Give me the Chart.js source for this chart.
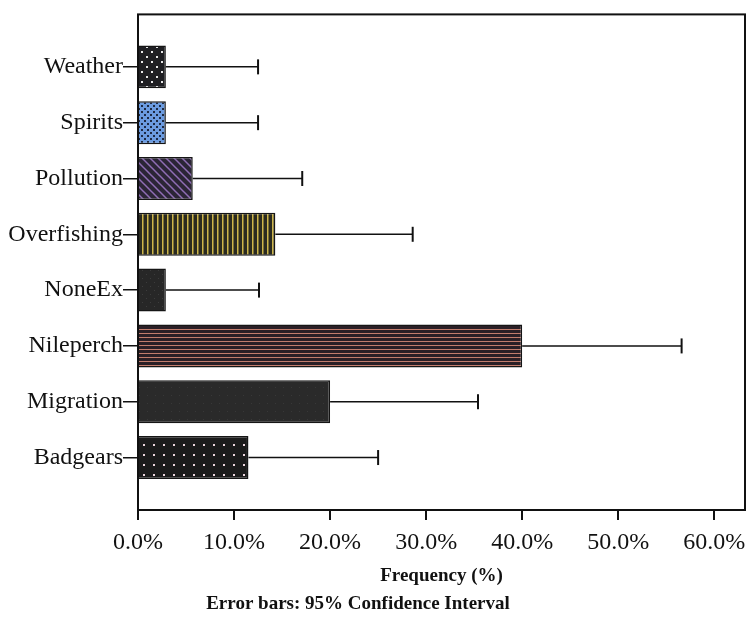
<!DOCTYPE html>
<html>
<head>
<meta charset="utf-8">
<script src="https://cdn.jsdelivr.net/npm/chart.js"></script>
<style>body{margin:0;background:#fff}</style>
</head>
<body>
<canvas id="chart" width="749" height="617"></canvas>
<script>
const categories = ['Weather', 'Spirits', 'Pollution', 'Overfishing', 'NoneEx', 'Nileperch', 'Migration', 'Badgears'];
const frequency = [2.9, 2.9, 5.7, 14.3, 2.9, 40.0, 20.0, 11.5];
const ciUpper = [12.5, 12.5, 17.1, 28.6, 12.6, 56.6, 35.4, 25.0];
const xTicks = [0, 10, 20, 30, 40, 50, 60];

const serif = '"Liberation Serif", "Times New Roman", serif';

// small tiles used as bar fills
function tile(size, bg, draw) {
  const c = document.createElement('canvas');
  c.width = size; c.height = size;
  const t = c.getContext('2d');
  t.fillStyle = bg;
  t.fillRect(0, 0, size, size);
  draw(t);
  return t.createPattern(c, 'repeat');
}
const fills = [
  tile(10, '#1f1f23', t => { t.fillStyle = '#e8e8e8'; t.fillRect(1, 1, 2, 2); t.fillRect(6, 6, 2, 2); }),
  tile(6, '#6b9be0', t => { t.fillStyle = '#1d2a44'; t.fillRect(0, 0, 2, 2); t.fillRect(3, 3, 2, 2); }),
  tile(8, '#2b2536', t => { t.strokeStyle = '#8f6db4'; t.lineWidth = 1.5; t.beginPath(); t.moveTo(-1, -1); t.lineTo(9, 9); t.moveTo(-5, 3); t.lineTo(5, 13); t.moveTo(3, -5); t.lineTo(13, 5); t.stroke(); }),
  tile(5, '#2a2a20', t => { t.fillStyle = '#cdb54a'; t.fillRect(2, 0, 1.5, 5); }),
  tile(8, '#272727', t => { t.fillStyle = '#3c3c3c'; t.fillRect(2, 2, 1, 1); t.fillRect(6, 6, 1, 1); }),
  tile(4, '#2a1f26', t => { t.fillStyle = '#c27c6c'; t.fillRect(0, 1, 4, 1); }),
  tile(8, '#2a2a2a', t => { t.fillStyle = '#383838'; t.fillRect(3, 3, 1, 1); }),
  tile(10, '#1b1b1b', t => { t.fillStyle = '#ead4dc'; t.fillRect(3, 4, 2, 2); })
];

const errorBars = {
  id: 'errorBars',
  afterDatasetsDraw(chart) {
    const ctx = chart.ctx, xs = chart.scales.x, ys = chart.scales.y;
    ctx.save();
    ctx.strokeStyle = '#111';
    frequency.forEach((v, i) => {
      const y = ys.getPixelForValue(i);
      const x0 = xs.getPixelForValue(v), x1 = xs.getPixelForValue(ciUpper[i]);
      ctx.lineWidth = 1.5;
      ctx.beginPath(); ctx.moveTo(x0, y); ctx.lineTo(x1, y); ctx.stroke();
      ctx.lineWidth = 2;
      ctx.beginPath(); ctx.moveTo(x1, y - 7.5); ctx.lineTo(x1, y + 7.5); ctx.stroke();
    });
    const a = chart.chartArea;
    ctx.lineWidth = 2;
    ctx.strokeRect(a.left, a.top, a.right - a.left, a.bottom - a.top);
    ctx.fillStyle = '#111';
    ctx.font = 'bold 19px ' + serif;
    ctx.textAlign = 'center';
    ctx.textBaseline = 'middle';
    ctx.fillText('Error bars: 95% Confidence Interval', 358, 604);
    ctx.restore();
  }
};

new Chart(document.getElementById('chart'), {
  type: 'bar',
  data: {
    datasets: [{
      data: frequency.map((v, i) => ({ x: v, y: i })),
      backgroundColor: fills,
      borderColor: '#151515',
      borderWidth: 1.5,
      categoryPercentage: 1,
      barPercentage: 0.77
    }]
  },
  options: {
    indexAxis: 'y',
    responsive: false,
    animation: false,
    devicePixelRatio: 1,
    layout: { padding: { top: 10, right: 4, bottom: 30, left: 0 } },
    plugins: { legend: { display: false }, tooltip: { enabled: false } },
    scales: {
      x: {
        type: 'linear',
        min: 0,
        max: 63.2,
        afterBuildTicks: s => { s.ticks = xTicks.map(v => ({ value: v })); },
        afterFit: s => { s.height = 77; s.paddingRight = 0; s.paddingLeft = 0; },
        ticks: {
          callback: v => v.toFixed(1) + '%',
          color: '#111',
          padding: 8,
          maxRotation: 0,
          font: { family: serif, size: 24 }
        },
        grid: { drawOnChartArea: false, tickLength: 10, color: '#111', lineWidth: 2 },
        border: { display: false },
        title: {
          display: true,
          text: 'Frequency (%)',
          color: '#111',
          padding: { top: 0, bottom: 0 },
          font: { family: serif, size: 19, weight: 'bold' }
        }
      },
      y: {
        type: 'linear',
        reverse: true,
        offset: false,
        min: -0.94,
        max: 7.94,
        afterBuildTicks: s => { s.ticks = categories.map((c, i) => ({ value: i })); },
        afterFit: s => { s.width = 138; },
        ticks: {
          callback: v => categories[v],
          color: '#111',
          padding: 0,
          autoSkip: false,
          font: { family: serif, size: 24 }
        },
        grid: { offset: false, drawOnChartArea: false, tickLength: 15, color: '#111', lineWidth: 1.5 },
        border: { display: false }
      }
    }
  },
  plugins: [errorBars]
});
</script>
</body>
</html>
